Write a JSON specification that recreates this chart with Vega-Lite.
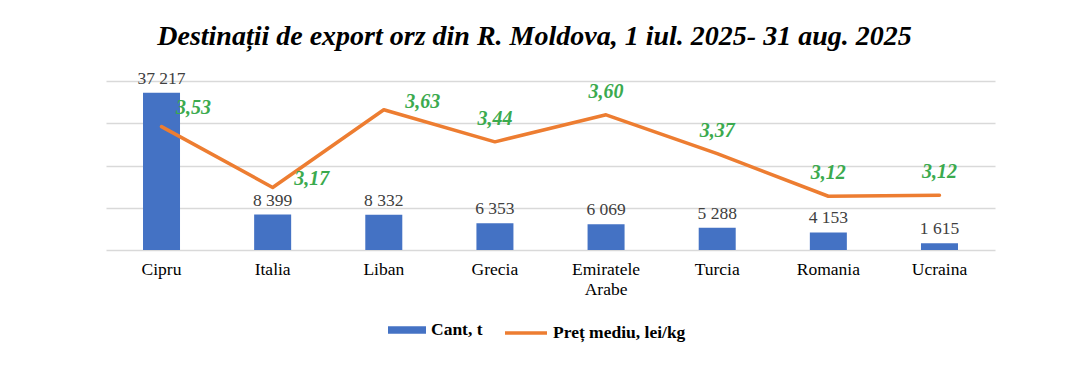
{
  "$schema": "https://vega.github.io/schema/vega-lite/v6.json",
  "autosize": {"type": "none"},
  "width": 889,
  "height": 169,
  "padding": {"left": 106, "top": 81, "right": 73, "bottom": 116},
  "background": "white",
  "title": {
    "text": "Destinații de export orz din R. Moldova, 1 iul. 2025- 31 aug. 2025",
    "font": "Liberation Serif",
    "fontSize": 28,
    "fontWeight": "bold",
    "fontStyle": "italic",
    "color": "#000000",
    "anchor": "middle",
    "frame": "group",
    "dx": -16,
    "offset": 19
  },
  "config": {
    "locale": {"number": {"decimal": ",", "thousands": " ", "grouping": [3], "currency": ["", ""]}},
    "view": {"stroke": null}
  },
  "data": {
    "values": [
      {"tara": "Cipru", "cant": 37217, "pret": 3.53},
      {"tara": "Italia", "cant": 8399, "pret": 3.17},
      {"tara": "Liban", "cant": 8332, "pret": 3.63},
      {"tara": "Grecia", "cant": 6353, "pret": 3.44},
      {"tara": "Emiratele Arabe", "cant": 6069, "pret": 3.60},
      {"tara": "Turcia", "cant": 5288, "pret": 3.37},
      {"tara": "Romania", "cant": 4153, "pret": 3.118},
      {"tara": "Ucraina", "cant": 1615, "pret": 3.124}
    ]
  },
  "encoding": {
    "x": {
      "field": "tara",
      "type": "nominal",
      "sort": null,
      "scale": {"paddingInner": 0.667, "paddingOuter": 0.333},
      "axis": {
        "title": null,
        "labelAngle": 0,
        "labelFont": "Liberation Serif",
        "labelFontSize": 17.5,
        "labelColor": "#000000",
        "labelPadding": 10,
        "labelLineHeight": 20,
        "labelExpr": "split(datum.label, ' ')",
        "ticks": false,
        "domain": false
      }
    }
  },
  "layer": [
    {
      "layer": [
        {
          "mark": {"type": "bar"},
          "encoding": {
            "y": {
              "field": "cant",
              "type": "quantitative",
              "scale": {"domain": [0, 40000], "nice": false},
              "axis": {
                "title": null,
                "labels": false,
                "ticks": false,
                "domain": false,
                "values": [0, 10000, 20000, 30000, 40000],
                "grid": true,
                "gridColor": "#d9d9d9",
                "gridWidth": 1.3
              }
            },
            "fill": {
              "datum": "Cant, t",
              "type": "nominal",
              "scale": {"range": ["#4472C4"]},
              "legend": {
                "title": null,
                "orient": "none",
                "legendX": 281,
                "legendY": 229,
                "padding": 0,
                "symbolType": "M-0.95,-0.19H0.95V0.19H-0.95Z",
                "symbolSize": 1600,
                "symbolStrokeWidth": 0,
                "labelFont": "Liberation Serif",
                "labelFontSize": 17.5,
                "labelFontWeight": "bold",
                "labelColor": "#000000",
                "labelOffset": 4
              }
            }
          }
        },
        {
          "mark": {
            "type": "text",
            "baseline": "bottom",
            "dy": -5,
            "font": "Liberation Serif",
            "fontSize": 17.5,
            "color": "#404040"
          },
          "encoding": {
            "y": {"field": "cant", "type": "quantitative"},
            "text": {"field": "cant", "type": "quantitative", "format": ",.0f"}
          }
        }
      ]
    },
    {
      "layer": [
        {
          "mark": {"type": "line", "strokeWidth": 3.5, "strokeCap": "round", "strokeJoin": "round"},
          "encoding": {
            "y": {
              "field": "pret",
              "type": "quantitative",
              "scale": {"domain": [2.8, 3.8], "nice": false, "zero": false},
              "axis": null
            },
            "stroke": {
              "datum": "Preț mediu, lei/kg",
              "type": "nominal",
              "scale": {"range": ["#ED7D31"]},
              "legend": {
                "title": null,
                "orient": "none",
                "legendX": 397,
                "legendY": 229,
                "padding": 0,
                "symbolType": "M-1,0H1",
                "symbolSize": 1764,
                "symbolStrokeWidth": 3.5,
                "labelFont": "Liberation Serif",
                "labelFontSize": 17.5,
                "labelFontWeight": "bold",
                "labelColor": "#000000",
                "labelOffset": 4
              }
            }
          }
        },
        {
          "transform": [{"filter": "datum.tara == 'Cipru'"}],
          "mark": {
            "type": "text",
            "baseline": "middle",
            "align": "center",
            "dx": 32,
            "dy": -19,
            "font": "Liberation Serif",
            "fontSize": 20,
            "fontWeight": "bold",
            "fontStyle": "italic",
            "color": "#3BAA4E"
          },
          "encoding": {
            "y": {"field": "pret", "type": "quantitative"},
            "text": {"field": "pret", "type": "quantitative", "format": ".2f"}
          }
        },
        {
          "transform": [{"filter": "datum.tara == 'Italia' || datum.tara == 'Liban'"}],
          "mark": {
            "type": "text",
            "baseline": "middle",
            "align": "center",
            "dx": 39,
            "dy": -8,
            "font": "Liberation Serif",
            "fontSize": 20,
            "fontWeight": "bold",
            "fontStyle": "italic",
            "color": "#3BAA4E"
          },
          "encoding": {
            "y": {"field": "pret", "type": "quantitative"},
            "text": {"field": "pret", "type": "quantitative", "format": ".2f"}
          }
        },
        {
          "transform": [{"filter": "datum.tara != 'Cipru' && datum.tara != 'Italia' && datum.tara != 'Liban'"}],
          "mark": {
            "type": "text",
            "baseline": "middle",
            "align": "center",
            "dy": -23,
            "font": "Liberation Serif",
            "fontSize": 20,
            "fontWeight": "bold",
            "fontStyle": "italic",
            "color": "#3BAA4E"
          },
          "encoding": {
            "y": {"field": "pret", "type": "quantitative"},
            "text": {"field": "pret", "type": "quantitative", "format": ".2f"}
          }
        }
      ]
    }
  ],
  "resolve": {"scale": {"y": "independent"}}
}
